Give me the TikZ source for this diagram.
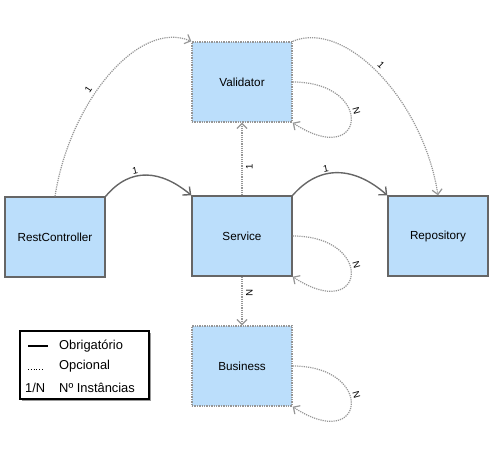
\documentclass[tikz,border=0pt]{standalone}
\usepackage{fontspec}
\setmainfont{Liberation Sans}
\usepackage{tikz}
\usetikzlibrary{arrows.meta,shadows}

\definecolor{boxblue}{RGB}{187,222,251}
\definecolor{linegray}{RGB}{102,102,102}
\definecolor{dotgray}{RGB}{150,150,150}

\tikzset{
  comp/.style={draw=linegray, line width=1.4pt, fill=boxblue, minimum width=100pt, minimum height=80pt, inner sep=0pt, font=\fontsize{11.7}{14}\selectfont},
  optcomp/.style={comp, draw=dotgray, densely dotted},
  req/.style={draw=linegray, line width=1.4pt, -{Straight Barb[length=6pt,width=11pt]}},
  opt/.style={draw=dotgray, line width=1.2pt, densely dotted, -{Straight Barb[length=5pt,width=10pt]}},
  card/.style={font=\fontsize{9.5}{11}\selectfont, sloped, inner sep=1.5pt},
  legtext/.style={anchor=west, inner sep=0pt, font=\fontsize{12.9}{15}\selectfont},
}

\begin{document}
\begin{tikzpicture}[x=1pt, y=-1pt]
\useasboundingbox (0,0) rectangle (493,454);

\node[optcomp] (val) at (242,82) {Validator};
\node[comp] (rest) at (55,237) {RestController};
\node[comp] (svc) at (242,236) {Service};
\node[comp] (repo) at (438,236) {Repository};
\node[optcomp] (bus) at (242,366) {Business};

% obrigatorio
\draw[req] (rest.north east) .. controls +(25,-30) and +(-30,-25) .. (svc.north west) node[card, pos=0.38, above] {1};
\draw[req] (svc.north east) .. controls +(28,-32) and +(-32,-28) .. (repo.north west) node[card, pos=0.38, above] {1};

% opcional
\draw[opt] (rest.north) .. controls +(15,-96) and +(-52,-22) .. (val.north west) node[card, pos=0.4, above=2pt] {1};
\draw[opt] (val.north east) .. controls +(52,-22) and +(-15,-96) .. (repo.north) node[card, pos=0.48, above=2pt] {1};
\draw[opt] (svc.north) -- (val.south) node[card, pos=0.39, below=2pt] {1};
\draw[opt] (svc.south) -- (bus.north) node[card, pos=0.34, above=2pt] {N};

% loops
\draw[opt] (val.east) .. controls +(83,0) and +(73,48) .. (val.south east) node[card, pos=0.42, above=1pt] {N};
\draw[opt] (svc.east) .. controls +(83,0) and +(73,48) .. (svc.south east) node[card, pos=0.42, above=1pt] {N};
\draw[opt] (bus.east) .. controls +(83,0) and +(73,48) .. (bus.south east) node[card, pos=0.42, above=1pt] {N};

% legenda
\node[draw=black, line width=1.5pt, fill=white, minimum width=129pt, minimum height=68pt, inner sep=0pt,
  drop shadow={shadow xshift=2pt, shadow yshift=-2pt, fill=black!40, opacity=1}] (legend) at (84.5,365) {};
\draw[line width=1.6pt, black] (28,346) -- (48,346);
\draw[line width=0.8pt, black, dotted] (28,369) -- (44,369);
\node[legtext] (obr) at (59,346.5) {Obrigatório};
\node[legtext] (opc) at (59,366.5) {Opcional};
\node[legtext] (num) at (25,387.5) {1/N};
\node[legtext] (ins) at (59,387.5) {Nº Instâncias};
\end{tikzpicture}
\end{document}
